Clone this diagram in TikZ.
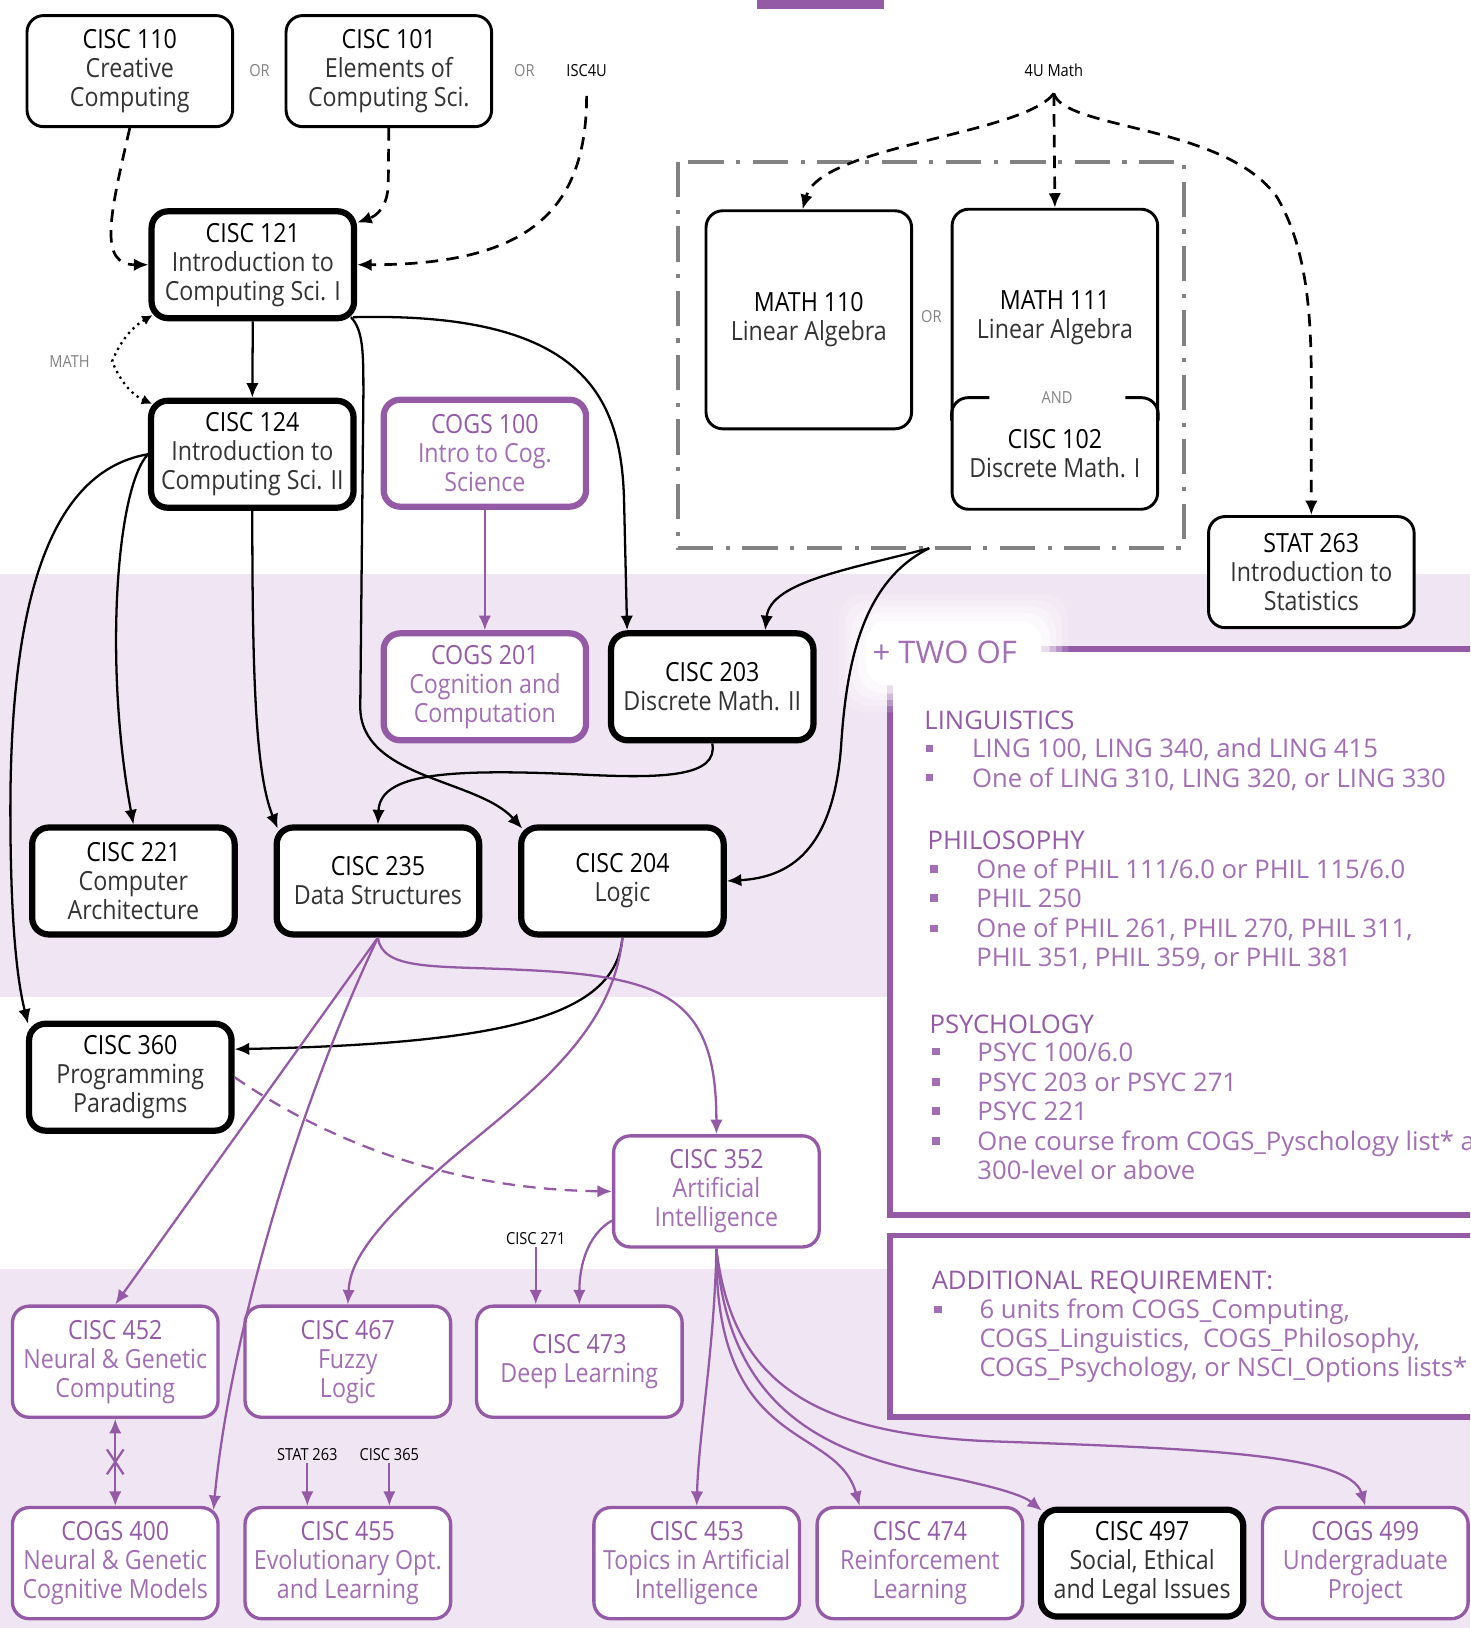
\documentclass[tikz,border=0pt]{standalone}
\usepackage{fontspec}
\setmainfont{Open Sans}
\newfontfamily\cf[FakeStretch=0.88]{Open Sans}
\usetikzlibrary{arrows.meta}
\definecolor{pur}{RGB}{148,90,166}
\definecolor{purl}{RGB}{162,110,180}
\definecolor{band}{RGB}{240,230,243}
\definecolor{dgray}{RGB}{130,130,130}
\colorlet{ttlc}{black}
\newcommand\ttl[1]{{\color{ttlc}#1}}
\begin{document}
\begin{tikzpicture}[x=0.5pt,y=-0.5pt,
  >={Latex[length=7pt,width=6pt]},
  box/.style={draw=black, rounded corners=8pt, fill=white, line width=1.4pt,
    minimum width=99pt, minimum height=53.5pt, inner sep=0pt, align=center,
    font=\cf\fontsize{12.7}{14}\selectfont, text=black!80},
  tbox/.style={box, line width=3pt, minimum width=97.5pt, minimum height=51.5pt},
  pbox/.style={box, draw=pur, text=purl, line width=1.6pt,
    font=\cf\fontsize{12.7}{14}\selectfont\colorlet{ttlc}{pur}},
  ptbox/.style={pbox, line width=3pt, minimum width=97.5pt, minimum height=51.5pt},
  txt/.style={align=center, inner sep=0pt, font=\cf\fontsize{12.7}{14}\selectfont, text=black!80},
  lbl/.style={font=\cf\fontsize{8}{9}\selectfont, text=black, inner sep=1pt},
  glbl/.style={lbl, text=dgray},
  con/.style={line width=1.1pt, ->},
  dcon/.style={con, line width=1.3pt, dash pattern=on 6pt off 4pt},
  pcon/.style={con, draw=pur},
  rt/.style={font=\fontsize{12.35}{14}\selectfont, text=purl, anchor=base west, inner sep=0pt},
  rh/.style={rt, text=pur},
]
\useasboundingbox (0,0) rectangle (1416,1568);
\clip (0,0) rectangle (1416,1568);
% background bands
\fill[band] (0,553) rectangle (1416,960);
\fill[band] (0,1222) rectangle (1416,1568);
\fill[pur] (729,0) rectangle (851,9);

% right panels
\draw[pur, line width=2.7pt, fill=white] (857,625) rectangle (1450,1170);
\draw[pur, line width=2.7pt, fill=white] (857,1190) rectangle (1450,1365);
\foreach \d/\o in {26/0.15,20/0.25,14/0.35,8/0.5} {
  \fill[white, opacity=\o, rounded corners=12pt] (834-\d,598-\d) rectangle (1003+\d,660+\d);
}
\fill[white, rounded corners=10pt] (834,598) rectangle (1003,660);
\node[font=\fontsize{15}{18}\selectfont, text=purl, anchor=base west, inner sep=0pt] (two) at (840,639) {+ TWO OF};

\node[rh] (hl) at (890,703) {LINGUISTICS};
\node[rt] (l1) at (936,730) {LING 100, LING 340, and LING 415};
\node[rt] (l2) at (936,758) {One of LING 310, LING 320, or LING 330};
\node[rh] (hp) at (893,818) {PHILOSOPHY};
\node[rt] (p1) at (940,846) {One of PHIL 111/6.0 or PHIL 115/6.0};
\node[rt] (p2) at (940,874) {PHIL 250};
\node[rt] (p3) at (940,903) {One of PHIL 261, PHIL 270, PHIL 311,};
\node[rt] (p4) at (940,931) {PHIL 351, PHIL 359, or PHIL 381};
\node[rh] (hy) at (895,995) {PSYCHOLOGY};
\node[rt] (y1) at (941,1022) {PSYC 100/6.0};
\node[rt] (y2) at (941,1051) {PSYC 203 or PSYC 271};
\node[rt] (y3) at (941,1079) {PSYC 221};
\node[rt] (y4) at (941,1108) {One course from COGS\_Pyschology list* a};
\node[rt] (y5) at (941,1136) {300-level or above};
\node[rh] (ha) at (897,1242) {ADDITIONAL REQUIREMENT:};
\node[rt] (a1) at (943,1270) {6 units from COGS\_Computing,};
\node[rt] (a2) at (943,1298) {COGS\_Linguistics,\ \ COGS\_Philosophy,};
\node[rt] (a3) at (943,1326) {COGS\_Psychology, or NSCI\_Options lists*};
\foreach \yy in {721,749} \fill[purl] (892,\yy-3.5) rectangle (899,\yy+3.5);
\foreach \yy in {837,865,894} \fill[purl] (896,\yy-3.5) rectangle (903,\yy+3.5);
\foreach \yy in {1013,1042,1070,1099} \fill[purl] (898,\yy-3.5) rectangle (905,\yy+3.5);
\fill[purl] (900,1257.5) rectangle (907,1264.5);

% dash-dot group
\draw[dgray, line width=2pt, dash pattern=on 17pt off 6pt on 2pt off 6pt] (653,156) rectangle (1140,528);

% top boxes
\node[box] (c110) at (125,68.5) {\ttl{CISC 110}\\Creative\\Computing};
\node[box] (c101) at (374.5,68.5) {\ttl{CISC 101}\\Elements of\\Computing Sci.};
\node[glbl] (or1) at (250,68) {OR};
\node[glbl] (or2) at (505,68) {OR};
\node[lbl] (isc) at (565,68) {ISC4U};
\node[lbl] (m4u) at (1015,68) {4U Math};
\node[tbox] (c121) at (243.5,255) {\ttl{CISC 121}\\Introduction to\\Computing Sci. I};
\node[glbl] (mth) at (67,348) {MATH};
\node[tbox] (c124) at (243,437.5) {\ttl{CISC 124}\\Introduction to\\Computing Sci. II};
\node[ptbox] (g100) at (467,436.5) {\ttl{COGS 100}\\Intro to Cog.\\Science};
\node[ptbox] (g201) at (467,661.5) {\ttl{COGS 201}\\Cognition and\\Computation};
\node[tbox] (c203) at (686,661.5) {\ttl{CISC 203}\\Discrete Math. II};
\node[box, minimum height=105pt] (m110) at (779,308) {\ttl{MATH 110}\\Linear Algebra};
\node[glbl] (or3) at (897,305) {OR};
\node[box, minimum height=144.5pt] (m111) at (1016,346) {};
\node[txt] (m111t) at (1016,306) {\ttl{MATH 111}\\Linear Algebra};
\draw[line width=1.4pt, rounded corners=8pt] (916.5,405) |- (953,383);
\draw[line width=1.4pt, rounded corners=8pt] (1084,383) -| (1115.5,405);
\node[glbl] (and) at (1018,383) {AND};
\node[txt] (c102) at (1016,437) {\ttl{CISC 102}\\Discrete Math. I};
\node[box] (st263) at (1263,551) {\ttl{STAT 263}\\Introduction to\\Statistics};

% middle boxes
\node[tbox] (c221) at (128.5,848.5) {\ttl{CISC 221}\\Computer\\Architecture};
\node[tbox] (c235) at (364,848.5) {\ttl{CISC 235}\\Data Structures};
\node[tbox] (c204) at (599.5,848.5) {\ttl{CISC 204}\\Logic};
\node[tbox] (c360) at (125.5,1037.5) {\ttl{CISC 360}\\Programming\\Paradigms};
\node[pbox] (c352) at (690,1147.5) {\ttl{CISC 352}\\Artificial\\Intelligence};
\node[lbl] (c271) at (516,1193) {CISC 271};

% bottom boxes
\node[pbox] (c452) at (111,1311.5) {\ttl{CISC 452}\\Neural \& Genetic\\Computing};
\node[pbox] (c467) at (335,1311.5) {\ttl{CISC 467}\\Fuzzy\\Logic};
\node[pbox] (c473) at (558,1311.5) {\ttl{CISC 473}\\Deep Learning};
\node[pbox] (g400) at (111,1505.5) {\ttl{COGS 400}\\Neural \& Genetic\\Cognitive Models};
\node[pbox] (c455) at (335,1505.5) {\ttl{CISC 455}\\Evolutionary Opt.\\and Learning};
\node[lbl] (s263) at (296,1401) {STAT 263};
\node[lbl] (c365) at (375,1401) {CISC 365};
\node[pbox] (c453) at (671,1505.5) {\ttl{CISC 453}\\Topics in Artificial\\Intelligence};
\node[pbox] (c474) at (886,1505.5) {\ttl{CISC 474}\\Reinforcement\\Learning};
\node[tbox] (c497) at (1100,1505.5) {\ttl{CISC 497}\\Social, Ethical\\and Legal Issues};
\node[pbox] (g499) at (1315,1505.5) {\ttl{COGS 499}\\Undergraduate\\Project};

% black connectors
\draw[dcon] (c110.south) .. controls (105,210) and (95,255) .. (c121.west);
\draw[dcon] (c101.south) -- (374,175) .. controls (374,200) and (362,208) .. ([yshift=-7pt]c121.north east);
\draw[dcon] ([yshift=-8pt]isc.south) .. controls (565,210) and (500,255) .. (c121.east);
\coordinate (mp) at (108,348);
\draw[line width=1.1pt, dotted, {Latex[length=5pt,width=5pt]}-{Latex[length=5pt,width=5pt]}]
  ([xshift=2pt,yshift=3pt]c121.south west) .. controls (122,318) and (112,338) .. (mp)
  .. controls (112,358) and (122,378) .. ([xshift=2pt,yshift=-3pt]c124.north west);
\draw[con] (c121.south) -- (c124.north);
\draw[con] ([xshift=-3pt,yshift=2pt]c121.south east) .. controls (350,318) and (350,340) .. (350,380)
  -- (347,680) .. controls (346,750) and (460,750) .. ([xshift=2pt,yshift=-2pt]c204.north west);
\draw[con] ([xshift=-2pt,yshift=2pt]c121.south east) .. controls (560,300) and (598,380) .. (601,480)
  -- ([xshift=-41pt]c203.north);
\draw[con] (c124.south) .. controls (243,650) and (246,745) .. ([xshift=2pt,yshift=-2pt]c235.north west);
\draw[con] (c124.west) .. controls (112,470) and (100,640) .. (c221.north);
\draw[con] (c124.west) .. controls (40,455) and (10,600) .. (10,780)
  .. controls (10,900) and (18,950) .. ([xshift=1pt,yshift=-1.5pt]c360.north west);
\coordinate (ddb) at (895,528);
\draw[con] (ddb) .. controls (820,548) and (742,560) .. ([xshift=25.5pt]c203.north);
\draw[con] (ddb) .. controls (830,560) and (815,640) .. (810,720)
  .. controls (802,820) and (760,845) .. (c204.east);
\draw[con] (c203.south) .. controls (692,748) and (640,750) .. (560,746)
  .. controls (430,740) and (366,745) .. (c235.north);
\coordinate (u4) at (1015,90);
\draw[dcon] (u4) .. controls (985,130) and (790,140) .. ([xshift=-3pt]m110.north);
\draw[dcon] (u4) -- (m111.north);
\draw[dcon] (u4) .. controls (1025,125) and (1180,120) .. (1230,190)
  .. controls (1265,250) and (1263,330) .. (1263,400) -- (st263.north);
\draw[con] (c204.south) .. controls (593,975) and (500,1005) .. ([yshift=13.5pt]c360.east);

% purple connectors
\draw[pcon] (g100.south) -- (g201.north);
\draw[pcon, dash pattern=on 6pt off 4pt] (c360.east) .. controls (280,1075) and (400,1145) .. (c352.west);
\draw[pcon] (c235.south) .. controls (368,935) and (420,930) .. (500,934)
  .. controls (640,940) and (690,960) .. (c352.north);
\draw[pcon] (c235.south) -- (c452.north);
\draw[pcon] (c235.south) .. controls (280,1080) and (220,1300) .. ([xshift=-3pt,yshift=-2pt]g400.north east);
\draw[pcon] (c204.south) .. controls (590,1000) and (500,1060) .. (430,1120)
  .. controls (350,1190) and (337,1220) .. (c467.north);
\draw[pcon] (c271.south) -- ([xshift=-21pt]c473.north);
\draw[pcon] ([yshift=-14pt]c352.west) .. controls (565,1190) and (558,1220) .. (c473.north);
\draw[pcon, <->] (c452.south) -- (g400.north);
\draw[pur, line width=1.1pt] (103,1396) -- (119,1420) (119,1396) -- (103,1420);
\draw[pcon] (s263.south) -- ([xshift=-19.5pt]c455.north);
\draw[pcon] (c365.south) -- ([xshift=20pt]c455.north);
\draw[pcon] (c352.south) .. controls (688,1300) and (673,1380) .. (c453.north);
\draw[pcon] (c352.south) .. controls (688,1400) and (805,1370) .. ([xshift=-29pt]c474.north);
\draw[pcon] (c352.south) .. controls (700,1360) and (800,1400) .. (900,1420)
  .. controls (960,1432) and (985,1440) .. ([xshift=2pt,yshift=-2pt]c497.north west);
\draw[pcon] (c352.south) .. controls (705,1330) and (780,1380) .. (950,1388)
  .. controls (1150,1395) and (1300,1400) .. (g499.north);
\end{tikzpicture}
\end{document}
